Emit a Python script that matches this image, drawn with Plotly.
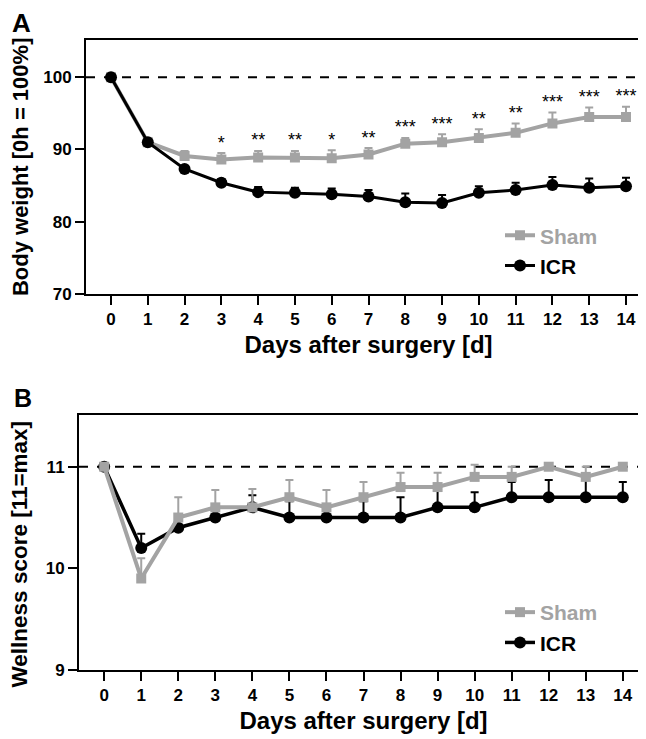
import plotly.graph_objects as go

days = list(range(15))
day_labels = [str(d) for d in days]

# Panel A: body weight [% of 0h]
sham_weight = [100, 91.0, 89.1, 88.6, 88.9, 88.9, 88.8, 89.3, 90.8, 91.0, 91.6, 92.3, 93.6, 94.5, 94.5]
sham_weight_err = [0, 0.4, 0.7, 0.9, 0.9, 0.9, 1.1, 0.9, 0.8, 1.1, 1.2, 1.3, 1.5, 1.3, 1.4]
icr_weight = [100, 91.0, 87.3, 85.4, 84.1, 84.0, 83.8, 83.5, 82.7, 82.6, 84.0, 84.4, 85.1, 84.7, 84.9]
icr_weight_err = [0, 0.4, 0.4, 0.5, 0.7, 0.7, 0.8, 0.9, 1.2, 1.1, 0.9, 1.0, 1.1, 1.3, 1.2]
stars = ["", "", "", "*", "**", "**", "*", "**", "***", "***", "**", "**", "***", "***", "***"]
baseline_a = 100

# Panel B: wellness score
sham_score = [11.0, 9.9, 10.5, 10.6, 10.6, 10.7, 10.6, 10.7, 10.8, 10.8, 10.9, 10.9, 11.0, 10.9, 11.0]
sham_score_err = [0, 0.2, 0.2, 0.17, 0.18, 0.17, 0.17, 0.15, 0.14, 0.14, 0.12, 0.1, 0, 0.1, 0]
icr_score = [11.0, 10.2, 10.4, 10.5, 10.6, 10.5, 10.5, 10.5, 10.5, 10.6, 10.6, 10.7, 10.7, 10.7, 10.7]
icr_score_err = [0, 0.14, 0.1, 0.1, 0.12, 0.16, 0.1, 0.16, 0.2, 0.2, 0.15, 0.15, 0.17, 0.17, 0.15]
baseline_b = 11

GRAY = "#a3a3a3"
BLACK = "#000000"
FONT = "Liberation Sans"

fig = go.Figure()

def add_series(x, y, err, color, symbol, size, width, name, xa, ya, legend):
    fig.add_trace(go.Scatter(
        x=x, y=y, mode="lines+markers", name=name,
        line=dict(color=color, width=width),
        marker=dict(color=color, symbol=symbol, size=size, line=dict(width=0)),
        error_y=dict(type="data", symmetric=False, array=err, arrayminus=[0] * len(err),
                     color=color, thickness=2, width=4),
        xaxis=xa, yaxis=ya, legend=legend,
    ))

# Panel A
add_series(days, sham_weight, sham_weight_err, GRAY, "square", 10, 4,
           "<span style='color:%s'>Sham</span>" % GRAY, "x", "y", "legend")
add_series(days, icr_weight, icr_weight_err, BLACK, "circle", 12, 3, "ICR", "x", "y", "legend")
fig.add_trace(go.Scatter(
    x=days, y=[s + e for s, e in zip(sham_weight, sham_weight_err)],
    mode="text", text=stars, textposition="top center",
    textfont=dict(family=FONT, size=18, color=BLACK),
    showlegend=False, xaxis="x", yaxis="y", cliponaxis=False,
))

# Panel B
add_series(days, icr_score, icr_score_err, BLACK, "circle", 12, 3.5, "ICR", "x2", "y2", "legend2")
add_series(days, sham_score, sham_score_err, GRAY, "square", 10, 4,
           "<span style='color:%s'>Sham</span>" % GRAY, "x2", "y2", "legend2")

fig.add_shape(type="line", xref="x domain", yref="y", x0=0, x1=1, y0=baseline_a, y1=baseline_a,
              line=dict(color=BLACK, width=2, dash="dash"), layer="below")
fig.add_shape(type="line", xref="x2 domain", yref="y2", x0=0, x1=1, y0=baseline_b, y1=baseline_b,
              line=dict(color=BLACK, width=2, dash="dash"), layer="below")

W, H = 646, 739
axis_common = dict(
    showgrid=False, zeroline=False, showline=True, linecolor=BLACK, linewidth=2, mirror=True,
    ticks="outside", ticklen=9, tickwidth=2, tickcolor=BLACK,
    tickfont=dict(family=FONT, size=17, color=BLACK, weight="bold"),
)
xcommon = dict(axis_common, tickmode="array", tickvals=days, ticktext=day_labels,
               range=[-0.68, 14.68],
               title=dict(text="Days after surgery [d]", standoff=8,
                          font=dict(family=FONT, size=24, color=BLACK, weight="bold")))

fig.update_layout(
    width=W, height=H, margin=dict(l=0, r=0, t=0, b=0),
    plot_bgcolor="white", paper_bgcolor="white",
    xaxis=dict(xcommon, domain=[78 / W, 643 / W], anchor="y"),
    yaxis=dict(axis_common, domain=[1 - 290 / H, 1 - 32 / H], anchor="x", range=[70, 105.2],
               tickvals=[70, 80, 90, 100],
               title=dict(text="Body weight [0h = 100%]", standoff=11,
                          font=dict(family=FONT, size=22, color=BLACK, weight="bold"))),
    xaxis2=dict(xcommon, domain=[71 / W, 640 / W], anchor="y2"),
    yaxis2=dict(axis_common, domain=[1 - 671 / H, 1 - 412.5 / H], anchor="x2", range=[9, 11.51],
                tickvals=[9, 10, 11]),
    legend=dict(x=492 / W, y=1 - 210 / H, xanchor="left", yanchor="top",
                bgcolor="rgba(0,0,0,0)", itemwidth=30, tracegroupgap=0,
                font=dict(family=FONT, size=21, color=BLACK, weight="bold")),
    legend2=dict(x=492 / W, y=1 - 592 / H, xanchor="left", yanchor="top",
                 bgcolor="rgba(0,0,0,0)", itemwidth=30, tracegroupgap=0, traceorder="reversed",
                 font=dict(family=FONT, size=21, color=BLACK, weight="bold")),
    annotations=[
        dict(text="A", x=13 / W, y=1 - 15 / H, xref="paper", yref="paper", showarrow=False,
             xanchor="center", yanchor="middle", font=dict(family=FONT, size=26, color=BLACK, weight="bold")),
        dict(text="B", x=15 / W, y=1 - 395 / H, xref="paper", yref="paper", showarrow=False,
             xanchor="center", yanchor="middle", font=dict(family=FONT, size=25, color=BLACK, weight="bold")),
        dict(text="Wellness score [11=max]", x=12 / W, y=1 - 554 / H, xref="paper", yref="paper",
             showarrow=False, textangle=-90, xanchor="center", yanchor="middle",
             font=dict(family=FONT, size=22.5, color=BLACK, weight="bold")),
    ],
)

fig.write_html("out.html")
